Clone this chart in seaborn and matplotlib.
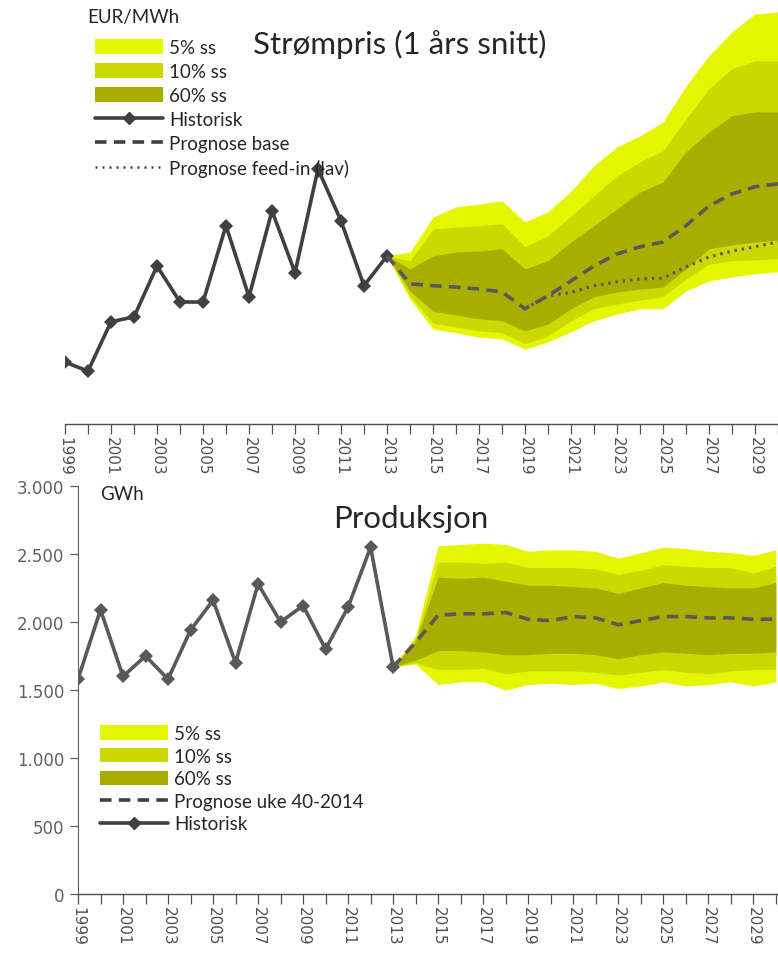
import numpy as np
import pandas as pd
import matplotlib
matplotlib.use("Agg")
import matplotlib.pyplot as plt
import seaborn as sns
from matplotlib.patches import Patch
from matplotlib.lines import Line2D

# ---------------- data ----------------
hist_years = list(range(1999, 2014))
fc_years = list(range(2013, 2031))

# Price (EUR/MWh), 1-year average
price_hist = [12.9, 11.0, 21.3, 22.3, 32.9, 25.4, 25.4, 41.3, 26.5, 44.4, 31.5, 53.1, 42.3, 28.8, 35.0]
price_base = [35.0, 29.2, 28.8, 28.5, 28.1, 27.5, 24.0, 26.7, 29.8, 32.9, 35.4, 36.9, 37.9, 41.3, 45.4, 47.9, 49.4, 50.0]
feedin_years = list(range(2019, 2031))
price_feedin = [24.0, 26.7, 27.4, 28.8, 29.6, 30.2, 30.4, 32.7, 34.8, 36.0, 36.9, 37.9]
price_p5_hi = [35.0, 35.8, 43.1, 45.2, 45.8, 46.5, 42.1, 44.2, 48.5, 53.8, 57.7, 60.0, 62.9, 70.4, 76.7, 81.7, 85.4, 85.8]
price_p10_hi = [35.0, 34.0, 40.6, 41.0, 41.3, 41.7, 36.9, 39.2, 43.3, 47.5, 51.7, 54.6, 56.9, 63.5, 69.8, 74.0, 75.6, 75.6]
price_p60_hi = [35.0, 32.3, 35.0, 35.8, 36.0, 36.5, 32.3, 34.0, 37.9, 41.3, 44.8, 48.3, 50.4, 56.7, 60.8, 64.2, 65.0, 65.0]
price_p60_lo = [35.0, 27.7, 23.5, 22.7, 21.9, 21.5, 19.4, 20.8, 24.0, 26.5, 27.5, 28.1, 28.5, 32.3, 36.5, 37.3, 37.9, 38.3]
price_p10_lo = [35.0, 26.7, 21.0, 20.2, 19.4, 19.0, 16.7, 18.3, 21.5, 24.0, 25.0, 25.8, 26.5, 30.2, 33.3, 34.0, 34.2, 34.4]
price_p5_lo = [35.0, 26.0, 19.8, 19.0, 18.1, 17.7, 15.6, 17.1, 19.2, 21.5, 22.9, 24.0, 24.0, 27.7, 29.8, 30.6, 31.3, 31.7]

# Production (GWh)
prod_hist = [1580, 2090, 1600, 1750, 1580, 1940, 2160, 1700, 2280, 2000, 2120, 1800, 2110, 2550, 1670]
prod_base = [1670, 1850, 2050, 2060, 2060, 2070, 2020, 2010, 2040, 2030, 1980, 2010, 2040, 2040, 2030, 2030, 2020, 2020]
prod_p5_hi = [1670, 1900, 2560, 2570, 2580, 2570, 2520, 2530, 2530, 2520, 2470, 2510, 2550, 2540, 2520, 2510, 2490, 2530]
prod_p10_hi = [1670, 1880, 2440, 2440, 2430, 2440, 2400, 2400, 2400, 2390, 2350, 2380, 2420, 2410, 2400, 2400, 2360, 2410]
prod_p60_hi = [1670, 1860, 2330, 2320, 2330, 2300, 2270, 2270, 2260, 2250, 2210, 2250, 2290, 2270, 2260, 2250, 2250, 2290]
prod_p60_lo = [1670, 1720, 1790, 1790, 1780, 1760, 1760, 1770, 1770, 1760, 1730, 1760, 1780, 1770, 1760, 1770, 1770, 1780]
prod_p10_lo = [1670, 1700, 1650, 1650, 1660, 1620, 1640, 1640, 1640, 1630, 1610, 1630, 1650, 1630, 1620, 1640, 1650, 1650]
prod_p5_lo = [1670, 1690, 1540, 1560, 1560, 1500, 1540, 1550, 1540, 1550, 1510, 1530, 1560, 1530, 1540, 1560, 1530, 1560]

band_labels = ["5% ss", "10% ss", "60% ss"]
band_colors = ["#E4F600", "#CCD900", "#A8AD00"]
line_color = "#404040"
dash_color = "#595959"

sns.set_style("white")
plt.rcParams["font.family"] = ["Lato", "DejaVu Sans"]

fig = plt.figure(figsize=(7.78, 9.54), dpi=100)
W, H = 778, 954


def add_axes_px(x0, y0, x1, y1):
    return fig.add_axes([x0 / W, 1 - y1 / H, (x1 - x0) / W, (y1 - y0) / H])


def style_xaxis(ax, x0, x1):
    ax.set_xlim(x0, x1)
    yrs = list(range(1999, 2031))
    ax.set_xticks(yrs)
    ax.set_xticklabels([str(y) if y % 2 == 1 else "" for y in yrs],
                       rotation=270, fontsize=11, color="#505050",
                       family="DejaVu Sans")
    ax.tick_params(axis="x", which="major", length=7, width=0.9,
                   color="#505050", pad=2, bottom=True)
    for s in ["top", "right"]:
        ax.spines[s].set_visible(False)
    ax.spines["bottom"].set_color("#505050")
    ax.spines["bottom"].set_linewidth(1.0)


# ---------------- top panel: price ----------------
ax1 = add_axes_px(65, 0, 778, 425)
fc = pd.DataFrame({"year": fc_years, "base": price_base,
                   "p5_hi": price_p5_hi, "p5_lo": price_p5_lo,
                   "p10_hi": price_p10_hi, "p10_lo": price_p10_lo,
                   "p60_hi": price_p60_hi, "p60_lo": price_p60_lo})
for (lo, hi), col in zip([("p5_lo", "p5_hi"), ("p10_lo", "p10_hi"), ("p60_lo", "p60_hi")], band_colors):
    ax1.fill_between(fc["year"], fc[lo], fc[hi], color=col, lw=0)
hist_df = pd.DataFrame({"year": hist_years, "val": price_hist})
sns.lineplot(data=hist_df, x="year", y="val", ax=ax1, color=line_color, lw=2.6,
             marker="D", markersize=7, markeredgewidth=0, markerfacecolor=line_color)
sns.lineplot(data=fc, x="year", y="base", ax=ax1, color=dash_color, lw=2.6)
ax1.lines[-1].set_dashes((3.2, 2.0))
fi_df = pd.DataFrame({"year": feedin_years, "val": price_feedin})
sns.lineplot(data=fi_df, x="year", y="val", ax=ax1, color=dash_color, lw=2.2)
ax1.lines[-1].set_linestyle((0, (0.8, 1.6)))
ax1.set_ylim(0, 88.5)
ax1.set_yticks([])
ax1.spines["left"].set_visible(False)
ax1.set_xlabel("")
ax1.set_ylabel("")
style_xaxis(ax1, 1999, 2030)

fig.text(87 / W, 1 - 17 / H, "EUR/MWh", fontsize=13.5, va="center", ha="left")
fig.text(400 / W, 1 - 44 / H, "Strømpris (1 års snitt)", fontsize=22.5,
         va="center", ha="center")

h_top = [Patch(facecolor=c, edgecolor="none", label=l) for c, l in zip(band_colors, band_labels)]
h_top += [Line2D([], [], color=line_color, lw=2.6, marker="D", markersize=6, label="Historisk"),
          Line2D([], [], color=line_color, lw=2.6, dashes=(3.2, 2.0), label="Prognose base"),
          Line2D([], [], color=line_color, lw=1.8, linestyle=(0, (0.8, 2.0)), label="Prognose feed-in (lav)")]
ax1.legend(handles=h_top, loc="upper left", bbox_to_anchor=(95 / W, 1 - 40 / H),
           bbox_transform=fig.transFigure, frameon=False, fontsize=13.5,
           handlelength=3.6, handleheight=0.8, labelspacing=0.37,
           handletextpad=0.35, borderpad=0, borderaxespad=0)

# ---------------- bottom panel: production ----------------
ax2 = add_axes_px(78, 487, 778, 895)
pf = pd.DataFrame({"year": fc_years, "base": prod_base,
                   "p5_hi": prod_p5_hi, "p5_lo": prod_p5_lo,
                   "p10_hi": prod_p10_hi, "p10_lo": prod_p10_lo,
                   "p60_hi": prod_p60_hi, "p60_lo": prod_p60_lo})
for (lo, hi), col in zip([("p5_lo", "p5_hi"), ("p10_lo", "p10_hi"), ("p60_lo", "p60_hi")], band_colors):
    ax2.fill_between(pf["year"], pf[lo], pf[hi], color=col, lw=0)
ph = pd.DataFrame({"year": hist_years, "val": prod_hist})
sns.lineplot(data=ph, x="year", y="val", ax=ax2, color=dash_color, lw=2.6,
             marker="D", markersize=7, markeredgewidth=0, markerfacecolor=dash_color)
sns.lineplot(data=pf, x="year", y="base", ax=ax2, color=dash_color, lw=2.6)
ax2.lines[-1].set_dashes((3.2, 2.0))
ax2.set_ylim(0, 3000)
yt = [0, 500, 1000, 1500, 2000, 2500, 3000]
ax2.set_yticks(yt)
ax2.set_yticklabels([f"{v:,}".replace(",", ".") for v in yt], fontsize=12,
                    color="#606060", family="DejaVu Sans")
ax2.tick_params(axis="y", length=6, width=0.9, color="#606060", left=True, pad=4)
ax2.spines["left"].set_color("#606060")
ax2.set_xlabel("")
ax2.set_ylabel("")
style_xaxis(ax2, 1999, 2030.1)

fig.text(100 / W, 1 - 495 / H, "GWh", fontsize=13.5, va="center", ha="left")
fig.text(411 / W, 1 - 519 / H, "Produksjon", fontsize=22.5, va="center", ha="center")

h_bot = [Patch(facecolor=c, edgecolor="none", label=l) for c, l in zip(band_colors, band_labels)]
h_bot += [Line2D([], [], color=line_color, lw=2.6, dashes=(3.2, 2.0), label="Prognose uke 40-2014"),
          Line2D([], [], color=line_color, lw=2.6, marker="D", markersize=6, label="Historisk")]
ax2.legend(handles=h_bot, loc="upper left", bbox_to_anchor=(100 / W, 1 - 726 / H),
           bbox_transform=fig.transFigure, frameon=False, fontsize=13.5,
           handlelength=3.6, handleheight=0.8, labelspacing=0.3,
           handletextpad=0.35, borderpad=0, borderaxespad=0)

fig.savefig("out.png", dpi=100)
